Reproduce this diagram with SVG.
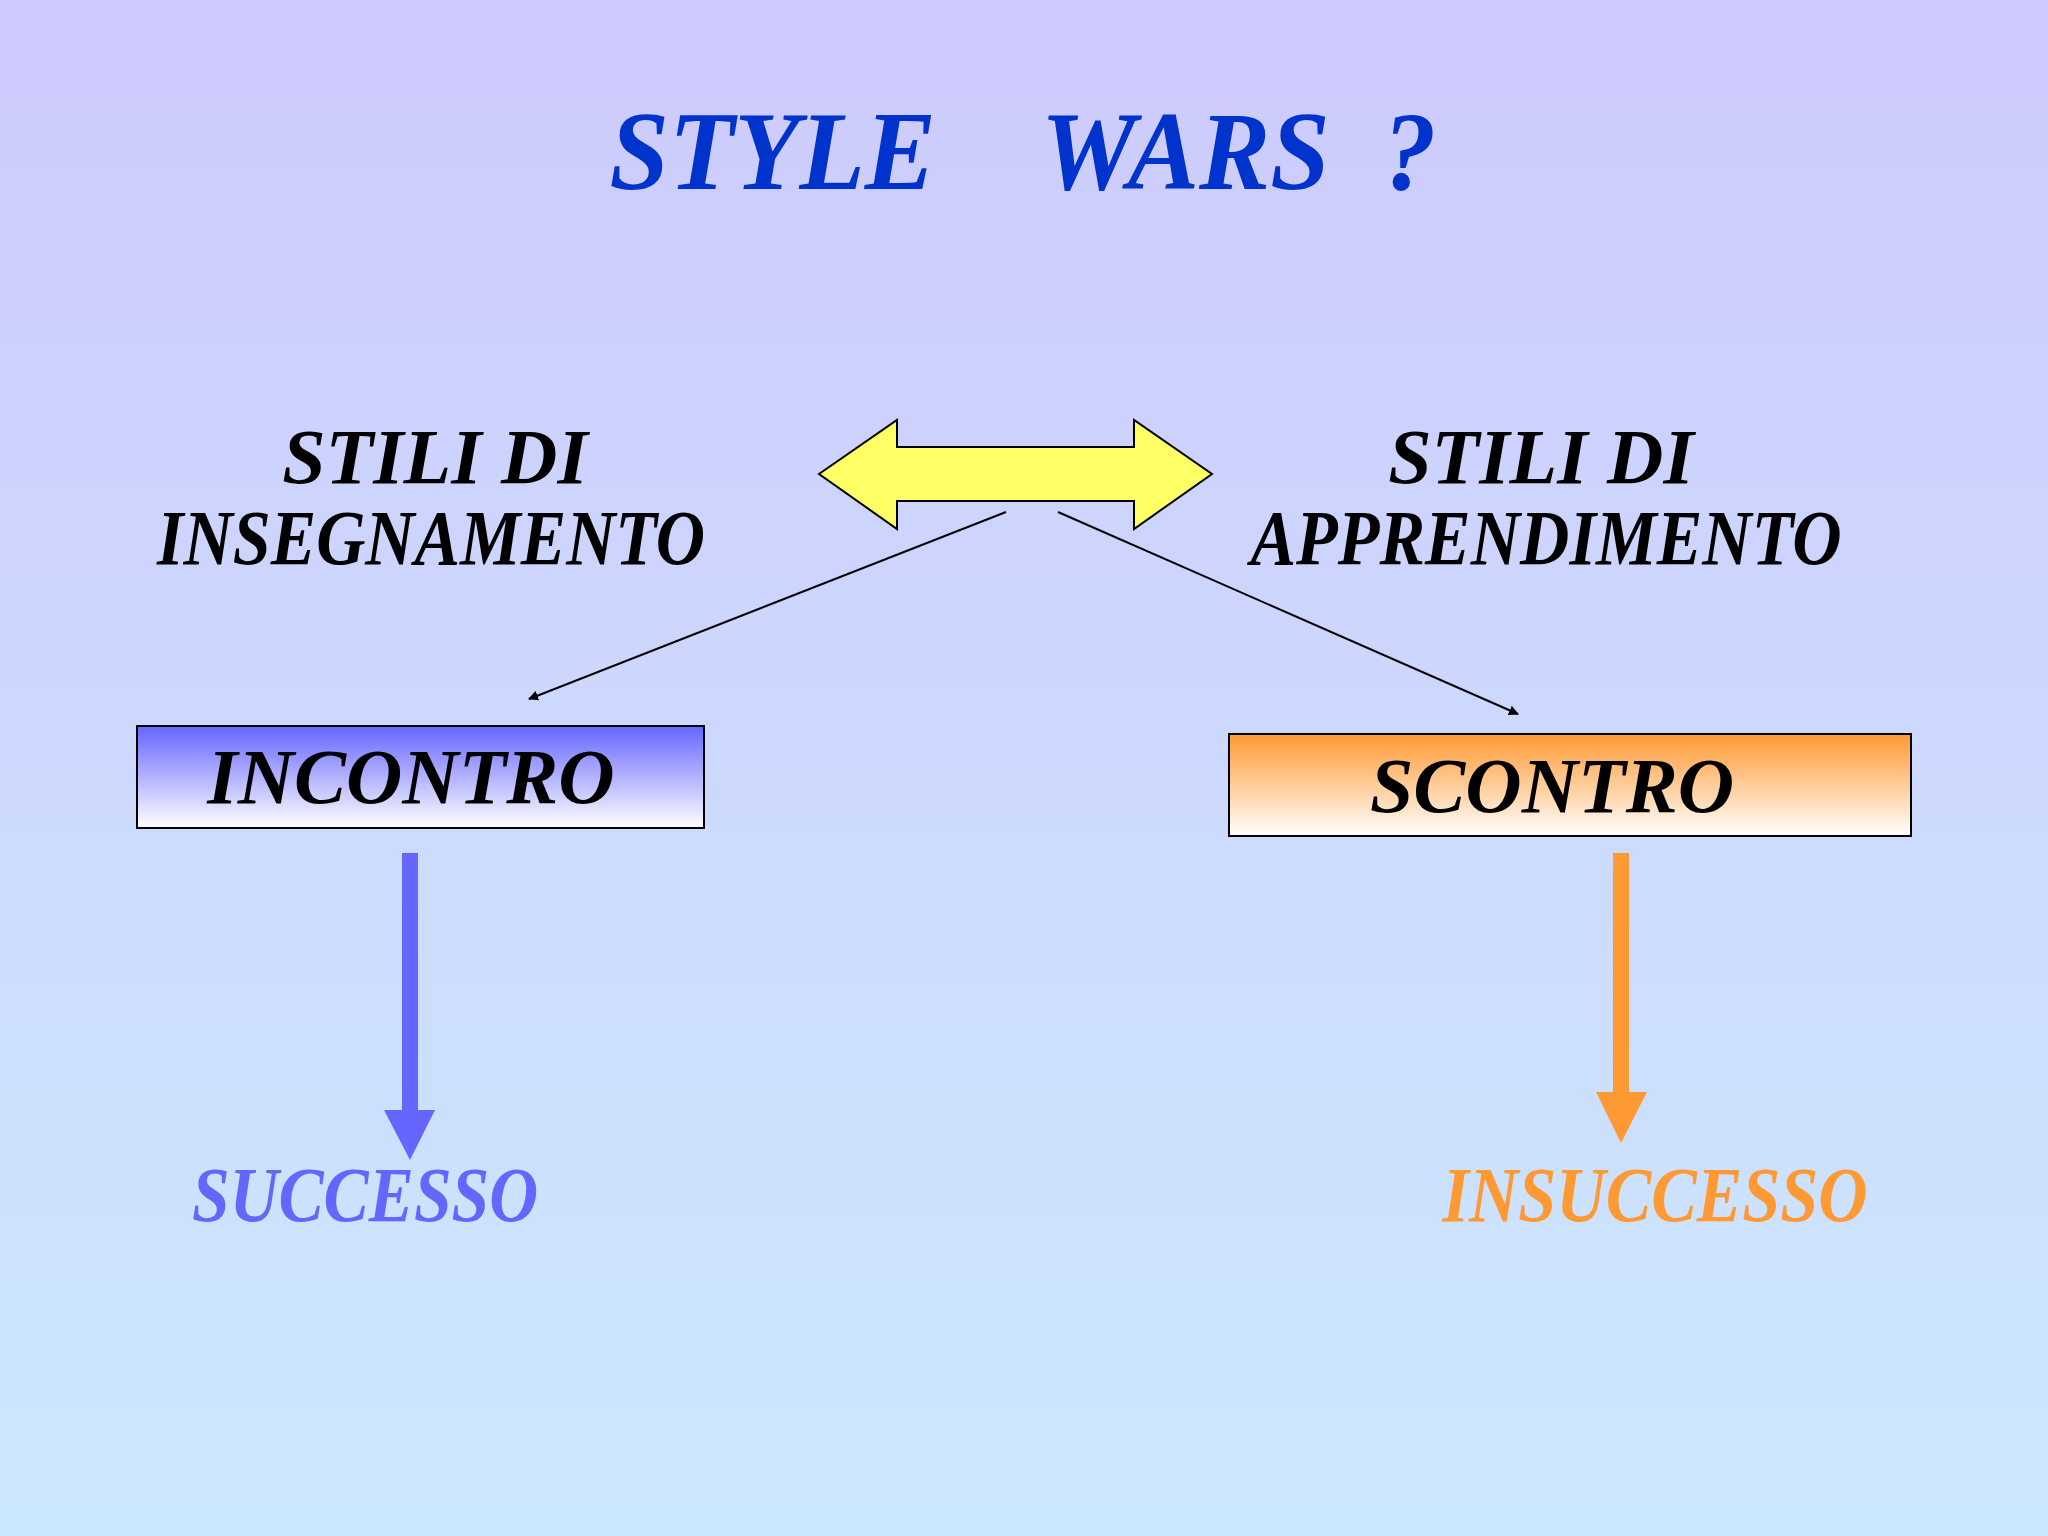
<svg xmlns="http://www.w3.org/2000/svg" width="2048" height="1536" viewBox="0 0 2048 1536">
<defs>
<linearGradient id="bg" x1="0" y1="0" x2="0" y2="1"><stop offset="0" stop-color="#cdcafd"/><stop offset="1" stop-color="#cce8fe"/></linearGradient>
<linearGradient id="gb" x1="0" y1="0" x2="0" y2="1"><stop offset="0" stop-color="#6666ff"/><stop offset="1" stop-color="#ffffff"/></linearGradient>
<linearGradient id="go" x1="0" y1="0" x2="0" y2="1"><stop offset="0" stop-color="#ff9933"/><stop offset="1" stop-color="#ffffff"/></linearGradient>
<marker id="ah" viewBox="0 0 10 10" refX="9" refY="5" markerWidth="10" markerHeight="10" markerUnits="userSpaceOnUse" orient="auto"><path d="M0,0 L10,5 L0,10 z" fill="#000"/></marker>
<style>
text{font-family:"Liberation Serif","Times New Roman",serif;font-weight:bold;font-style:italic;text-anchor:middle}
.lbl{font-size:78px;fill:#000}
</style>
</defs>
<rect width="2048" height="1536" fill="url(#bg)"/>
<text x="1023" y="189" font-size="112" fill="#0033cc" textLength="827" lengthAdjust="spacingAndGlyphs" xml:space="preserve">STYLE    WARS  ?</text>
<g id="teaching"><text class="lbl" x="435" y="483">STILI  DI</text><text class="lbl" x="431" y="564" textLength="548" lengthAdjust="spacingAndGlyphs">INSEGNAMENTO</text></g>
<g id="learning"><text class="lbl" x="1541" y="483">STILI  DI</text><text class="lbl" x="1546" y="564" textLength="591" lengthAdjust="spacingAndGlyphs">APPRENDIMENTO</text></g>
<g id="double-arrow"><polygon points="819,474 897,420 897,447 1134,447 1134,420 1212,474 1134,529 1134,501 897,501 897,529" fill="#ffff66" stroke="#000" stroke-width="2"/></g>
<g id="incontro"><rect x="137" y="726" width="567" height="102" fill="url(#gb)" stroke="#000" stroke-width="2"/><text class="lbl" x="411" y="803">INCONTRO</text></g>
<g id="scontro"><rect x="1229" y="734" width="682" height="102" fill="url(#go)" stroke="#000" stroke-width="2"/><text class="lbl" x="1552" y="812">SCONTRO</text></g>
<g id="successo"><text x="365" y="1221" font-size="78" fill="#6666ff" textLength="346" lengthAdjust="spacingAndGlyphs">SUCCESSO</text></g>
<g id="insuccesso"><text x="1655" y="1221" font-size="78" fill="#ff9933" textLength="425" lengthAdjust="spacingAndGlyphs">INSUCCESSO</text></g>
<g id="connectors">
<line x1="1006" y1="512" x2="529" y2="699" stroke="#000" stroke-width="2" marker-end="url(#ah)"/>
<line x1="1058" y1="512" x2="1518" y2="714" stroke="#000" stroke-width="2" marker-end="url(#ah)"/>
<polygon points="402,853 418,853 418,1110 435,1110 410,1160 384,1110 402,1110" fill="#6666ff"/>
<polygon points="1613,853 1629,853 1629,1092 1647,1092 1621,1143 1596,1092 1613,1092" fill="#ff9933"/>
</g>
</svg>
